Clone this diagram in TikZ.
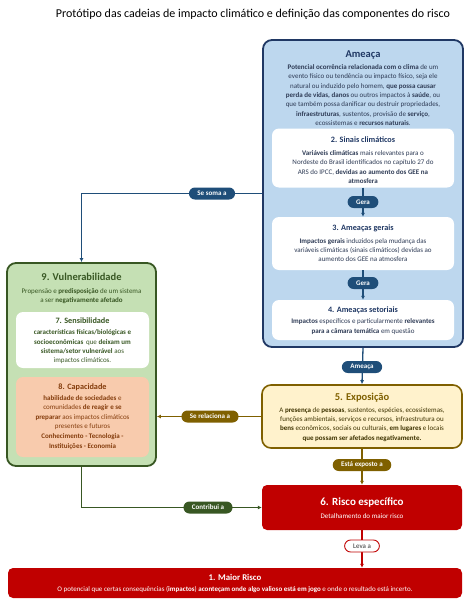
\documentclass[tikz,border=0pt]{standalone}
\usepackage{fontspec}
\setmainfont{Carlito}
\usetikzlibrary{arrows.meta}
\definecolor{navy}{HTML}{203864}
\definecolor{ablue}{HTML}{BDD7EE}
\definecolor{pblue}{HTML}{1F4E79}
\definecolor{abody}{HTML}{2E3B55}
\definecolor{dgreen}{HTML}{385723}
\definecolor{lgreen}{HTML}{C5E0B4}
\definecolor{peach}{HTML}{F8CBAD}
\definecolor{brownt}{HTML}{843C0C}
\definecolor{olive}{HTML}{7F6000}
\definecolor{lyellow}{HTML}{FFF2CC}
\definecolor{ytext}{HTML}{3D3200}
\definecolor{rred}{HTML}{C00000}
\begin{document}
\begin{tikzpicture}[x=1pt,y=-1pt,
  bigbox/.style={draw, line width=1.8pt, rounded corners=9pt, inner sep=0pt},
  whitebox/.style={fill=white, rounded corners=7pt, inner sep=0pt},
  txt/.style={align=center, inner sep=0pt, font=\fontsize{7}{9.3}\selectfont},
  btitle/.style={align=center, inner sep=0pt, font=\bfseries\fontsize{8.2}{10}\selectfont},
  htitle/.style={align=center, inner sep=0pt, font=\bfseries\fontsize{10.5}{12}\selectfont},
  pill/.style={rounded corners=6pt, minimum height=12pt, inner xsep=8.5pt, inner ysep=0pt, text=white, font=\bfseries\fontsize{7}{8}\selectfont},
  bpill/.style={pill, fill=pblue},
  gpill/.style={pill, fill=dgreen},
  opill/.style={pill, fill=olive},
  conn/.style={line width=1.3pt, -{Latex[length=4pt,width=4pt]}},
]
\useasboundingbox (0,0) rectangle (474,605);

\node[font=\fontsize{12}{14}\selectfont, inner sep=0pt] (title) at (253,14) {Protótipo das cadeias de impacto climático e definição das componentes do risco};

% --- Ameaça block
\node[bigbox, draw=navy, fill=ablue, minimum width=200pt, minimum height=307pt] (ameaca) at (363,193.5) {};
\node[htitle, text=navy] (ameacaT) at (363,55) {Ameaça};
\node[txt, text=abody] (ameacaB) at (363,95) {\textbf{Potencial ocorrência relacionada com o clima} de um\\
evento físico ou tendência ou impacto físico, seja ele\\
natural ou induzido pelo homem, \textbf{que possa causar}\\
\textbf{perda de vidas, danos} ou outros impactos à \textbf{saúde}, ou\\
que também possa danificar ou destruir propriedades,\\
\textbf{infraestruturas}, sustentos, provisão de \textbf{serviço},\\
ecossistemas e \textbf{recursos naturais}.};

\node[whitebox, minimum width=182pt, minimum height=59pt] (box2) at (363,158) {};
\node[btitle, text=navy] (box2T) at (363,140) {2. Sinais climáticos};
\node[txt, text=abody] (box2B) at (363,167) {\textbf{Variáveis climáticas} mais relevantes para o\\
Nordeste do Brasil identificados no capítulo 27 do\\
ARS do IPCC, \textbf{devidas ao aumento dos GEE na}\\
\textbf{atmosfera}};

\node[whitebox, minimum width=182pt, minimum height=53pt] (box3) at (363,243.5) {};
\node[btitle, text=navy] (box3T) at (363,228) {3. Ameaças gerais};
\node[txt, text=abody] (box3B) at (363,250) {\textbf{Impactos gerais} induzidos pela mudança das\\
variáveis climáticas (sinais climáticos) devidas ao\\
aumento dos GEE na atmosfera};

\node[whitebox, minimum width=182pt, minimum height=40pt] (box4) at (363,320) {};
\node[btitle, text=navy] (box4T) at (363,310) {4. Ameaças setoriais};
\node[txt, text=abody] (box4B) at (363,326.5) {\textbf{Impactos} específicos e particularmente \textbf{relevantes}\\
\textbf{para a câmara temática} em questão};

% --- Vulnerabilidade block
\node[bigbox, draw=dgreen, fill=lgreen, minimum width=149pt, minimum height=203pt] (vuln) at (81.5,364.5) {};
\node[htitle, text=dgreen] (vulnT) at (81.5,277) {9. Vulnerabilidade};
\node[txt, text=dgreen] (vulnB) at (81.5,296) {Propensão e \textbf{predisposição} de um sistema\\
a ser \textbf{negativamente afetado}};

\node[whitebox, minimum width=133pt, minimum height=56pt] (box7) at (82.5,340) {};
\node[btitle, text=dgreen] (box7T) at (82.5,321) {7. Sensibilidade};
\node[txt, text=dgreen] (box7B) at (82.5,347) {\textbf{características físicas/biológicas e}\\
\textbf{socioeconômicas}\, que \textbf{deixam um}\\
\textbf{sistema/setor vulnerável} aos\\
impactos climáticos.};

\node[whitebox, fill=peach, minimum width=133pt, minimum height=80pt] (box8) at (82.5,417) {};
\node[btitle, text=brownt] (box8T) at (82.5,387) {8. Capacidade};
\node[txt, text=brownt] (box8B) at (82.5,412.5) {\textbf{habilidade de sociedades} e\\
comunidades \textbf{de reagir e se}\\
\textbf{preparar} aos impactos climáticos\\
presentes e futuros};
\node[txt, text=brownt] (box8C) at (82.5,441.5) {\textbf{Conhecimento - Tecnologia -}\\
\textbf{Instituições - Economia}};

% --- Exposição
\node[bigbox, draw=olive, fill=lyellow, line width=1.6pt, minimum width=200pt, minimum height=63pt] (box5) at (362,416.5) {};
\node[htitle, text=olive] (box5T) at (362,398) {5. Exposição};
\node[txt, text=ytext] (box5B) at (362,424.5) {A \textbf{presença} de \textbf{pessoas}, sustentos, espécies, ecossistemas,\\
funções ambientais, serviços e recursos, infraestrutura ou\\
\textbf{bens} econômicos, sociais ou culturais, \textbf{em lugares} e locais\\
\textbf{que possam ser afetados negativamente.}};

% --- Risco específico
\node[fill=rred, rounded corners=5pt, inner sep=0pt, minimum width=200pt, minimum height=45pt] (box6) at (362,507.5) {};
\node[htitle, text=white, font=\bfseries\fontsize{11}{12}\selectfont] (box6T) at (362,502) {6. Risco específico};
\node[txt, text=white] (box6B) at (362,516) {Detalhamento do maior risco};

% --- Maior risco
\node[fill=rred, rounded corners=5pt, inner sep=0pt, minimum width=454pt, minimum height=30pt] (box1) at (235,583) {};
\node[btitle, text=white, font=\bfseries\fontsize{8.8}{10}\selectfont] (box1T) at (235,577.5) {1. Maior Risco};
\node[txt, text=white] (box1B) at (235,590) {O potencial que certas consequências (\textbf{impactos}) \textbf{aconteçam onde algo valioso está em jogo} e onde o resultado está incerto.};

% --- connectors
\draw[conn, pblue] (box2.south) -- (box3.north);
\draw[conn, pblue] (box3.south) -- (box4.north);
\draw[conn, pblue] (ameaca.south) -- (box5.north);
\draw[conn, pblue] (ameaca.west) -| (vuln.north);
\coordinate (relEnd) at (box5.west -| vuln.east);
\draw[conn, olive] (box5.west) -- (relEnd);
\draw[conn, olive] (box5.south) -- (box6.north);
\draw[conn, dgreen] (vuln.south) |- (box6.west);
\coordinate (riskEnd) at (box6.south |- box1.north);
\draw[conn, rred] (box6.south) -- (riskEnd);

% --- pills
\node[bpill] (gera1) at (363,202) {Gera};
\node[bpill] (gera2) at (363,283) {Gera};
\node[bpill] (pAmeaca) at (362,367) {Ameaça};
\node[bpill] (pSoma) at (212,193.5) {Se soma a};
\node[opill] (pRelac) at (210,416.5) {Se relaciona a};
\node[opill] (pExposto) at (362,465) {Está exposto a};
\node[gpill] (pContrib) at (208,507.5) {Contribui a};
\node[pill, fill=white, draw=rred, line width=0.9pt, text=black!80, font=\fontsize{7}{8}\selectfont] (pLeva) at (362,546) {Leva a};
\end{tikzpicture}
\end{document}
